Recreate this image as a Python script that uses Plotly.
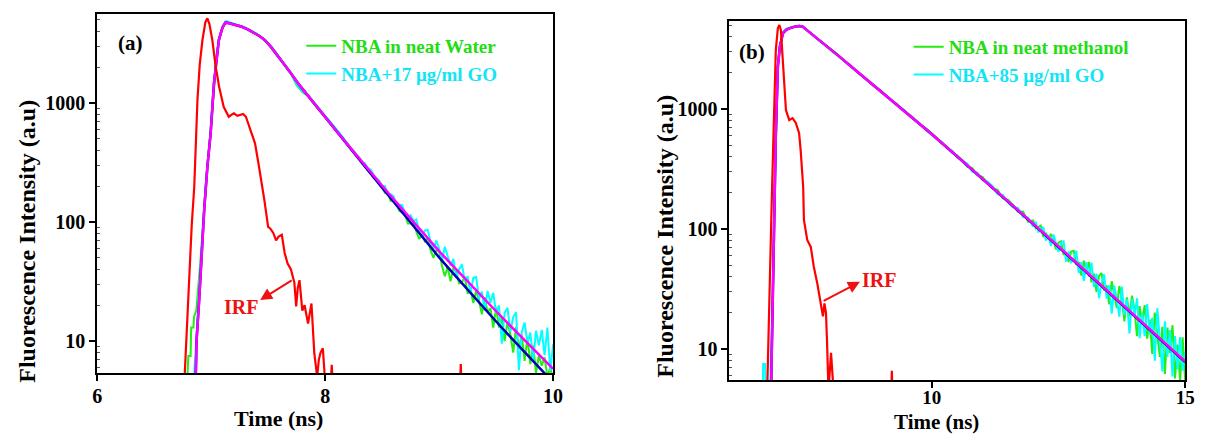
import plotly.graph_objects as go
import math

# ---------------- Panel (a) data ----------------
a_irf_x = [6.765, 6.79, 6.81, 6.83, 6.852, 6.88, 6.90, 6.924, 6.95, 6.967, 6.985, 7.01, 7.04, 7.07,
           7.11, 7.13, 7.155, 7.18, 7.20, 7.23, 7.255, 7.28, 7.305, 7.33, 7.36, 7.385, 7.415, 7.443,
           7.467, 7.50, 7.52, 7.545, 7.57, 7.59, 7.62, 7.645, 7.67, 7.70, 7.73, 7.746, 7.76, 7.775,
           7.80, 7.82, 7.85, 7.88, 7.905, 7.93, 7.945, 7.96, 7.98, 8.0, None, 8.05, 8.058, 8.066,
           None, 9.185, 9.19, 9.195]
a_irf_y = [4.5, 16, 42, 95, 198, 1060, 2100, 3400, 4800, 5150, 4600, 3400, 2020, 1370,
           930, 840, 767, 800, 820, 780, 795, 810, 767, 653, 560, 458, 312, 218,
           153, 91, 88, 81, 70, 75, 78, 55, 45, 40, 31, 19.5, 28, 32.5,
           18, 20, 14, 20.7, 7.9, 5.0, 7, 8, 8.7, 4.5, None, 4.5, 6.3, 4.5,
           None, 4.5, 6.4, 4.5]

a_fit_x = [6.865, 6.872, 6.895, 6.92, 6.94, 6.967, 6.996, 7.025, 7.05, 7.068, 7.10, 7.126, 7.15,
           7.20, 7.27, 7.33, 7.385, 7.43, 7.47, 7.53, 7.59, 7.65, 7.70, 7.775, 7.85, 7.92, 7.99,
           8.1, 8.2, 8.3, 8.4, 8.5, 8.6, 8.7, 8.8, 8.9, 9.0, 9.1, 9.2, 9.3, 9.4, 9.5, 9.6, 9.7,
           9.8, 9.9, 10.0]
a_fit_go_y = [5.0, 10, 22, 60, 130, 290, 560, 1470, 2600, 3400, 4300, 4730, 4700,
              4560, 4370, 4120, 3850, 3620, 3390, 2920, 2450, 2080, 1775, 1413, 1148, 944, 785,
              582, 445, 340, 262, 202, 156, 121, 93.8, 72.9, 56.9, 44.9, 35.5, 28.1, 22.3, 17.8, 14.2, 11.4,
              9.08, 7.28, 5.85]
a_fit_water_y = [5.0, 10, 22, 60, 130, 290, 560, 1470, 2600, 3400, 4300, 4730, 4700,
                 4560, 4370, 4120, 3850, 3620, 3390, 2920, 2450, 2080, 1775, 1413, 1148, 944, 785,
                 580, 442, 335, 255, 194, 148, 113, 86, 66, 50.5, 39.2, 30.5, 23.8, 18.6, 14.6, 11.5, 9.1,
                 7.2, 5.7, 4.5]

a_tail_x = [8.0, 8.025, 8.05, 8.075, 8.1, 8.125, 8.15, 8.175, 8.2, 8.225,
            8.25, 8.275, 8.3, 8.325, 8.35, 8.375, 8.4, 8.425, 8.45, 8.475,
            8.5, 8.525, 8.55, 8.575, 8.6, 8.625, 8.65, 8.675, 8.7, 8.725,
            8.75, 8.775, 8.8, 8.825, 8.85, 8.875, 8.9, 8.925, 8.95, 8.975,
            9.0, 9.025, 9.05, 9.075, 9.1, 9.125, 9.15, 9.175, 9.2, 9.225,
            9.25, 9.275, 9.3, 9.325, 9.35, 9.375, 9.4, 9.425, 9.45, 9.475,
            9.5, 9.525, 9.55, 9.575, 9.6, 9.625, 9.65, 9.675, 9.7, 9.725,
            9.75, 9.775, 9.8, 9.825, 9.85, 9.875, 9.9, 9.925, 9.95, 9.975,
            10.0]

a_water_early_x = [6.79, 6.80, 6.82, 6.825, 6.845, 6.85, 6.87, 6.88, 6.90, 6.92, 6.94, 6.967, 6.996,
                   7.025, 7.05, 7.068, 7.10, 7.126, 7.15, 7.20, 7.25, 7.30, 7.35, 7.40, 7.45, 7.50,
                   7.55, 7.60, 7.65, 7.70, 7.75, 7.80, 7.85, 7.90, 7.95]
a_water_early_y = [4.5, 7.5, 7.5, 13, 13, 16, 18, 25, 40, 70, 140, 300, 580,
                   1450, 2600, 3450, 4350, 4780, 4700, 4600, 4420, 4280, 3990, 3800, 3480, 3150,
                   2720, 2380, 2050, 1760, 1410, 1240, 1140, 990, 860]
a_water_tail_y = [760, 712, 680, 628, 590, 545, 520, 478, 450, 410,
                  392, 360, 340, 310, 295, 270, 258, 236, 228, 206,
                  194, 176, 177, 150, 152, 147, 124, 120, 119, 97,
                  97, 100, 83, 72, 79, 69, 74, 58, 50, 58,
                  57, 43, 35, 42, 31.7, 41, 39.4, 30.5, 31.2, 34.7,
                  25, 27.4, 20.9, 26.6, 21.8, 16.8, 23.3, 17.4, 18.9, 13,
                  19.1, 13, 15.6, 10, 14.5, 11.4, 8, 13.1, 8.6, 11.2,
                  6.8, 10.8, 6.4, 9.2, 5.4, 7.6, 6.2, 7.3, 5.0, 6.0,
                  4.7]

a_go_early_x = [6.85, 6.87, 6.89, 6.91, 6.93, 6.96, 6.99, 7.02, 7.05, 7.08, 7.11, 7.13, 7.16, 7.20,
                7.25, 7.30, 7.35, 7.40, 7.45, 7.50, 7.55, 7.60, 7.65, 7.70, 7.75, 7.80, 7.85, 7.90, 7.95]
a_go_early_y = [5, 11, 22, 45, 105, 250, 520, 1300, 2650, 3800, 4600, 4900, 4780, 4620,
                4480, 4290, 4060, 3830, 3520, 3200, 2810, 2420, 2090, 1790, 1430, 1260, 1160, 1010, 880]
a_go_tail_y = [780, 735, 690, 640, 600, 560, 525, 485, 455, 415,
               398, 368, 350, 320, 312, 284, 275, 248, 236, 222,
               202, 200, 172, 171, 165, 139, 140, 139, 119, 105,
               114, 102, 105, 84, 74, 85, 86, 68.5, 59, 70,
               60, 47, 62, 52, 43, 49, 34, 40, 44, 32,
               35, 25, 34, 34.5, 22.5, 26, 18, 26.4, 21, 25.4,
               17, 20, 9.5, 17.3, 19, 12, 15.9, 17.4, 5.7, 11.9,
               14.3, 9.6, 11.8, 6.9, 12.2, 9.2, 12.4, 7.6, 13, 5.6,
               9.4]

# ---------------- Panel (b) data ----------------
b_irf_x = [6.75, 6.78, 6.80, 6.84, 6.875, 6.92, 6.96, 6.99, 7.02, 7.06, 7.12, 7.185, 7.25, 7.315,
           7.38, 7.41, 7.46, 7.475, 7.54, 7.61, 7.67, 7.74, 7.80, 7.85, 7.88, 7.91, 7.93, 7.96,
           7.99, 8.01, 8.04, 8.06, None, 9.20, 9.21, 9.22]
b_irf_y = [4.5, 18, 39, 174, 630, 3100, 4700, 5010, 4570, 2250, 980, 810, 840, 765,
           630, 455, 225, 119, 81, 71, 48.5, 35, 25.7, 18.7, 24, 20, 11.9, 4.5,
           7, 9.3, 6, 4.5, None, 4.5, 6.6, 4.5]

b_fit_x = [6.83, 6.86, 6.89, 6.92, 6.96, 7.0, 7.06, 7.12, 7.185, 7.25, 7.32, 7.38, 7.45, 7.6, 7.8,
           8.0, 8.2, 8.4, 8.6, 8.8, 9.0, 9.2, 9.4, 9.6, 9.8, 10.0, 10.5, 11.0, 11.5, 12.0, 12.5,
           13.0, 13.5, 14.0, 14.5, 15.0]
b_fit_go_y = [5.5, 30, 174, 600, 2250, 3300, 4270, 4550, 4700, 4800, 4880, 4920, 4860, 4310, 3690,
              3160, 2680, 2270, 1930, 1640, 1400, 1190, 1010, 859, 728, 617, 403, 263, 172, 111, 71.6,
              46.2, 29.5, 19.1, 12.3, 7.9]
b_fit_meoh_y = [5.5, 30, 174, 600, 2250, 3300, 4270, 4550, 4700, 4800, 4880, 4920, 4860, 4310, 3690,
                3160, 2680, 2270, 1930, 1640, 1400, 1190, 1010, 859, 728, 617, 402, 262, 171, 110, 70.8,
                45.6, 29.1, 18.8, 12.1, 7.8]

b_tail_x = [10.0, 10.1, 10.2, 10.3, 10.4, 10.5, 10.6, 10.7, 10.8, 10.9,
            11.0, 11.1, 11.2, 11.3, 11.4, 11.5, 11.6, 11.7, 11.8, 11.9,
            12.0, 12.05, 12.1, 12.15, 12.2, 12.25, 12.3, 12.35, 12.4, 12.45,
            12.5, 12.55, 12.6, 12.65, 12.7, 12.75, 12.8, 12.85, 12.9, 12.95,
            13.0, 13.05, 13.1, 13.15, 13.2, 13.25, 13.3, 13.35, 13.4, 13.45,
            13.5, 13.55, 13.6, 13.65, 13.7, 13.75, 13.8, 13.85, 13.9, 13.95,
            14.0, 14.05, 14.1, 14.15, 14.2, 14.25, 14.3, 14.35, 14.4, 14.45,
            14.5, 14.55, 14.6, 14.65, 14.7, 14.75, 14.8, 14.85, 14.9, 14.95,
            15.0]

b_meoh_early_x = [6.83, 6.86, 6.89, 6.92, 6.96, 7.0, 7.06, 7.12, 7.185, 7.25, 7.32, 7.38, 7.45,
                  7.55, 7.65, 7.75, 7.85, 7.95, 8.1, 8.25, 8.4, 8.55, 8.7, 8.85, 9.0, 9.15, 9.3,
                  9.45, 9.6, 9.75, 9.9]
b_meoh_early_y = [5.5, 32, 180, 620, 2300, 3350, 4300, 4600, 4720, 4850, 4900, 4950, 4840,
                  4500, 4150, 3820, 3560, 3260, 2950, 2570, 2300, 1990, 1790, 1560, 1420, 1230, 1110,
                  960, 870, 750, 680]
b_meoh_tail_y = [625, 575, 515, 485, 432, 410, 372, 330, 322, 281,
                 272, 240, 218, 212, 180, 176, 160, 139, 140, 115,
                 118, 101, 104, 107, 86, 93, 82, 91, 82, 67.5,
                 77, 79, 61, 64, 53, 65, 66, 50, 53, 41,
                 54.5, 44, 53, 36, 42.5, 30, 40.6, 43, 30.7, 34,
                 23.6, 36.7, 28.4, 22, 33.5, 26, 17, 27, 18.7, 27.9,
                 21, 12.8, 22.8, 16.7, 23.2, 12.2, 17.6, 9.1, 20.1, 12.9,
                 8.6, 15.3, 6.2, 15.1, 9.3, 15.8, 5.7, 10.9, 5.4, 12.5,
                 5.5]

b_go_early_x = [6.66, 6.67, 6.71, 6.72, 6.80, 6.86, 6.89, 6.92, 6.96, 7.0, 7.06, 7.12, 7.185, 7.25,
                7.32, 7.38, 7.45, 7.55, 7.65, 7.75, 7.85, 7.95, 8.1, 8.25, 8.4, 8.55, 8.7, 8.85,
                9.0, 9.15, 9.3, 9.45, 9.6, 9.75, 9.9]
b_go_early_y = [4, 7.5, 7.5, 4, 4, 28, 170, 610, 2280, 3380, 4380, 4650, 4750, 4820,
                4870, 4900, 4850, 4480, 4170, 3850, 3540, 3290, 2890, 2590, 2260, 2010, 1770, 1590,
                1390, 1250, 1090, 985, 850, 765, 660]
b_go_tail_y = [610, 560, 530, 470, 450, 395, 375, 350, 300, 295,
               255, 248, 228, 195, 192, 168, 152, 150, 126, 125,
               105, 115, 95, 97.5, 104, 80, 89, 72, 90, 75,
               64.4, 77, 79, 53.5, 65, 53, 55.3, 66, 43, 53,
               37, 53, 40, 52.5, 32.8, 42.4, 26.5, 35.5, 42, 26.3,
               34, 19.7, 33.8, 25.9, 18.6, 33.2, 19.3, 26, 13.5, 25.9,
               19.1, 26.5, 12.3, 20, 12.8, 23.7, 13.2, 18.2, 8, 21.9,
               12.3, 6.5, 17, 8.6, 14.4, 5.9, 12.8, 6.8, 12.6, 6.6,
               9.5]

# ---------------- Labels / ticks ----------------
y_major_ticks = [10, 100, 1000]
y_minor_ticks = [6, 7, 8, 9, 20, 30, 40, 50, 60, 70, 80, 90,
                 200, 300, 400, 500, 600, 700, 800, 900, 2000, 3000, 4000, 5000]
a_x_ticks = [6, 8, 10]
b_x_ticks = [10, 15]
a_legend_names = ["NBA in neat Water", "NBA+17 \u03bcg/ml GO"]
b_legend_names = ["NBA in neat methanol", "NBA+85 \u03bcg/ml GO"]
a_irf_label_xy = (7.26, 19.3)
a_irf_arrow_head = (7.43, 22.1)
a_irf_arrow_tail = (7.72, 33.0)
b_irf_label_xy = (8.95, 37.6)
b_irf_arrow_head = (8.58, 36.3)
b_irf_arrow_tail = (7.835, 24.8)

GREEN = "#22ee11"
CYAN = "#00ffff"
BLUE = "#0000bb"
MAGENTA = "#ff00ff"
RED = "#ff0000"
FONT = "Liberation Serif"

W, H = 1209, 434

fig = go.Figure()


def add_panel(xa, ya, leg, names, d1x, d1y, d2x, d2y, fx, f1y, f2y, ix, iy):
    fig.add_trace(go.Scatter(x=d1x, y=d1y, mode="lines", xaxis=xa, yaxis=ya, legend=leg,
                             name="<span style='color:%s'>%s</span>" % ("#22dd11", names[0]),
                             line=dict(color=GREEN, width=2)))
    fig.add_trace(go.Scatter(x=d2x, y=d2y, mode="lines", xaxis=xa, yaxis=ya, legend=leg,
                             name="<span style='color:%s'>%s</span>" % ("#11e5f5", names[1]),
                             line=dict(color=CYAN, width=2)))
    fig.add_trace(go.Scatter(x=fx, y=f1y, mode="lines", xaxis=xa, yaxis=ya, showlegend=False,
                             line=dict(color=BLUE, width=2.5)))
    fig.add_trace(go.Scatter(x=fx, y=f2y, mode="lines", xaxis=xa, yaxis=ya, showlegend=False,
                             line=dict(color=MAGENTA, width=2.5)))
    fig.add_trace(go.Scatter(x=ix, y=iy, mode="lines", xaxis=xa, yaxis=ya, showlegend=False,
                             connectgaps=False, line=dict(color=RED, width=2.2)))


add_panel("x", "y", "legend", a_legend_names,
          a_water_early_x + a_tail_x, a_water_early_y + a_water_tail_y,
          a_go_early_x + a_tail_x, a_go_early_y + a_go_tail_y,
          a_fit_x, a_fit_water_y, a_fit_go_y, a_irf_x, a_irf_y)
add_panel("x2", "y2", "legend2", b_legend_names,
          b_meoh_early_x + b_tail_x, b_meoh_early_y + b_meoh_tail_y,
          b_go_early_x + b_tail_x, b_go_early_y + b_go_tail_y,
          b_fit_x, b_fit_meoh_y, b_fit_go_y, b_irf_x, b_irf_y)

ytickfont = dict(family=FONT, size=20, color="black", weight="bold")
xtickfont = dict(family=FONT, size=20, color="black", weight="bold")
xtickfont_b = dict(family=FONT, size=19, color="black", weight="bold")
base_axis = dict(showline=True, linecolor="black", linewidth=1.6, mirror=True,
                 ticks="outside", ticklen=6, tickwidth=1.6, tickcolor="black",
                 showgrid=False, zeroline=False)
minor = dict(ticks="inside", ticklen=3, tickwidth=1, tickcolor="#555555", showgrid=False,
             tickvals=y_minor_ticks)

fig.update_layout(
    width=W, height=H, autosize=False,
    margin=dict(l=0, r=0, t=0, b=0),
    paper_bgcolor="white", plot_bgcolor="white",
    xaxis=dict(domain=[93.3 / W, 555 / W], range=[6, 10], tickvals=a_x_ticks,
               anchor="y", tickfont=xtickfont, ticklabelstandoff=-2, **base_axis),
    yaxis=dict(domain=[1 - 373.3 / H, 1 - 14 / H], type="log", range=[0.729, 3.748],
               tickvals=y_major_ticks, ticktext=[str(v) for v in y_major_ticks], anchor="x",
               tickfont=ytickfont, minor=minor, **base_axis),
    xaxis2=dict(domain=[733.3 / W, 1195 / W], range=[6.0, 15], tickvals=b_x_ticks,
                anchor="y2", tickfont=xtickfont_b, ticklabelstandoff=-7, **base_axis),
    yaxis2=dict(domain=[1 - 380 / H, 1 - 20.7 / H], type="log", range=[0.742, 3.736],
                tickvals=y_major_ticks, ticktext=[str(v) for v in y_major_ticks], anchor="x2",
                tickfont=ytickfont, minor=minor, **base_axis),
    legend=dict(x=300 / W, y=1 - 27 / H, xanchor="left", yanchor="top",
                bgcolor="rgba(0,0,0,0)", tracegroupgap=0,
                font=dict(family=FONT, size=19, weight="bold")),
    legend2=dict(x=915 / W, y=1 - 28 / H, xanchor="left", yanchor="top",
                 bgcolor="rgba(0,0,0,0)", tracegroupgap=0,
                 font=dict(family=FONT, size=19, weight="bold")),
    showlegend=True,
)

title_font = dict(family=FONT, size=24, color="black", weight="bold")
xtitle_font = dict(family=FONT, size=22, color="black", weight="bold")
xtitle_font_b = dict(family=FONT, size=21, color="black", weight="bold")
ann = []
# axis titles
ann.append(dict(text="Fluorescence Intensity (a.u)", x=22 / W, y=1 - 241 / H, xref="paper",
                yref="paper", textangle=-90, showarrow=False, font=title_font,
                xanchor="center", yanchor="middle"))
ann.append(dict(text="Time (ns)", x=277 / W, y=1 - 418 / H, xref="paper", yref="paper",
                showarrow=False, font=xtitle_font, xanchor="center", yanchor="middle"))
ann.append(dict(text="Fluorescence Intensity (a.u)", x=668 / W, y=1 - 236 / H, xref="paper",
                yref="paper", textangle=-90, showarrow=False, font=title_font,
                xanchor="center", yanchor="middle"))
ann.append(dict(text="Time (ns)", x=943 / W, y=1 - 421.5 / H, xref="paper", yref="paper",
                showarrow=False, font=xtitle_font_b, xanchor="center", yanchor="middle"))
# panel labels
ann.append(dict(text="(a)", x=127 / W, y=1 - 43 / H, xref="paper", yref="paper",
                showarrow=False, xanchor="center", yanchor="middle",
                font=dict(family=FONT, size=21, color="black", weight="bold")))
ann.append(dict(text="(b)", x=756 / W, y=1 - 52 / H, xref="paper", yref="paper",
                showarrow=False, xanchor="center", yanchor="middle",
                font=dict(family=FONT, size=21, color="black", weight="bold")))
# IRF labels and arrows
irf_font = dict(family=FONT, size=20, color="#ee1111", weight="bold")
for xr, yr, lab, head, tail in [("x", "y", a_irf_label_xy, a_irf_arrow_head, a_irf_arrow_tail),
                                ("x2", "y2", b_irf_label_xy, b_irf_arrow_head, b_irf_arrow_tail)]:
    ann.append(dict(text="IRF", x=lab[0], y=math.log10(lab[1]), xref=xr, yref=yr,
                    showarrow=False, font=irf_font))
    ann.append(dict(text="", x=head[0], y=math.log10(head[1]), xref=xr, yref=yr,
                    ax=tail[0], ay=math.log10(tail[1]), axref=xr, ayref=yr,
                    showarrow=True, arrowhead=2, arrowsize=1.2, arrowwidth=2,
                    arrowcolor="#ee1111"))
fig.update_layout(annotations=ann)

fig.write_html("out.html")
